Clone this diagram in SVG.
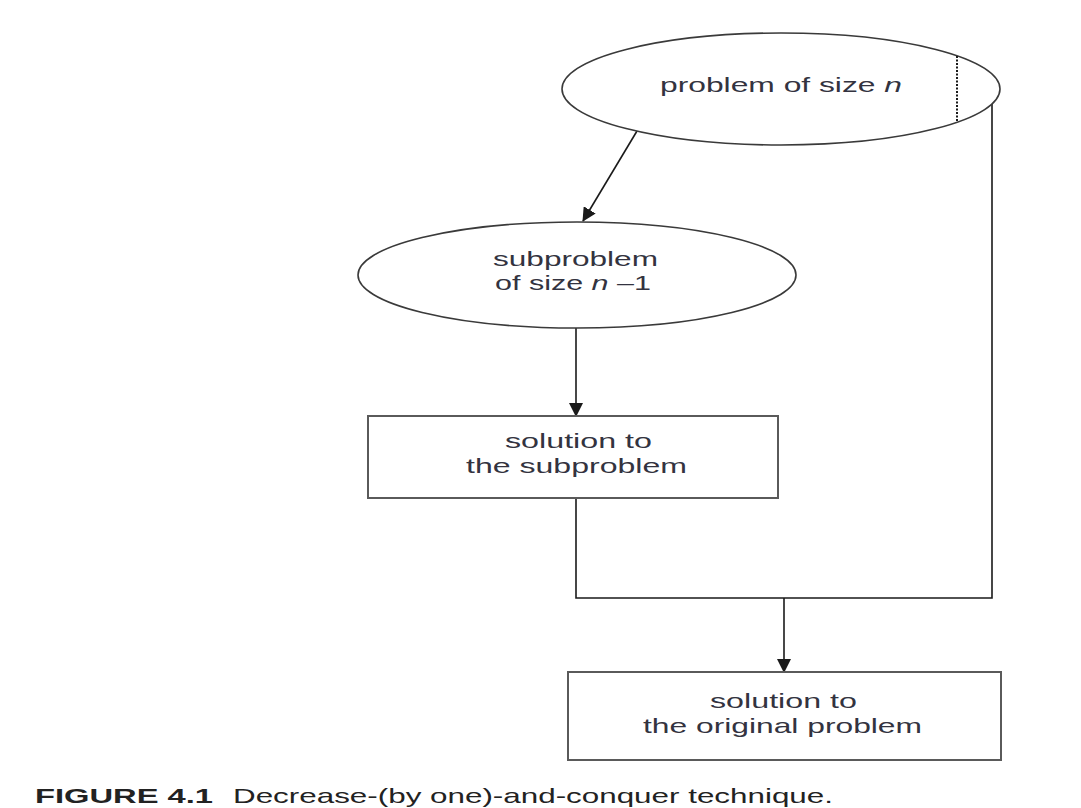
<svg xmlns="http://www.w3.org/2000/svg" width="1081" height="808" viewBox="0 0 1081 808">
<style>
  .shape { fill: #ffffff; stroke: #3a3a3a; stroke-width: 1.6; }
  .box { fill: #ffffff; stroke: #5a5a5a; stroke-width: 2; }
  .lbl { font-family: "Liberation Sans", Arial, sans-serif; font-size: 21px; fill: #333340; }
  .conn { fill: none; stroke: #1a1a1a; stroke-width: 1.6; }
  .cap { font-family: "Liberation Sans", Arial, sans-serif; font-size: 21px; fill: #222222; }
</style>
<defs>
  <marker id="ah" markerUnits="userSpaceOnUse" markerWidth="14" markerHeight="14" viewBox="0 0 14 14" refX="13" refY="7" orient="auto">
    <path d="M0,0 L14,7 L0,14 z" fill="#1a1a1a"/>
  </marker>
</defs>
<rect width="1081" height="808" fill="#ffffff"/>
<g id="connectors">
  <line class="conn" x1="637" y1="131" x2="583" y2="221" marker-end="url(#ah)"/>
  <line class="conn" x1="576" y1="328" x2="576" y2="416" stroke="#555555" marker-end="url(#ah)"/>
  <path class="conn" d="M576,498 V598 H992 V104"/>
  <line class="conn" x1="784" y1="598" x2="784" y2="672" stroke-width="2" marker-end="url(#ah)"/>
</g>
<g id="node-problem">
  <ellipse class="shape" cx="781" cy="89" rx="219" ry="56"/>
  <line x1="957" y1="56" x2="957" y2="122" stroke="#1a1a1a" stroke-width="2" stroke-dasharray="2,1.5"/>
  <text class="lbl" x="660" y="92" textLength="242" lengthAdjust="spacingAndGlyphs">problem of size <tspan font-style="italic">n</tspan></text>
</g>
<g id="node-subproblem">
  <ellipse class="shape" cx="577" cy="275" rx="219" ry="53"/>
  <text class="lbl" x="493" y="266" textLength="165" lengthAdjust="spacingAndGlyphs">subproblem</text>
  <text class="lbl" x="495" y="290" textLength="156" lengthAdjust="spacingAndGlyphs">of size <tspan font-style="italic">n</tspan> –1</text>
</g>
<g id="node-solution-sub">
  <rect class="box" x="368" y="416" width="410" height="82"/>
  <text class="lbl" x="505" y="448" textLength="147" lengthAdjust="spacingAndGlyphs">solution to</text>
  <text class="lbl" x="466" y="473" textLength="221" lengthAdjust="spacingAndGlyphs">the subproblem</text>
</g>
<g id="node-solution-orig">
  <rect class="box" x="568" y="672" width="433" height="88"/>
  <text class="lbl" x="710" y="708" textLength="147" lengthAdjust="spacingAndGlyphs">solution to</text>
  <text class="lbl" x="643" y="733" textLength="279" lengthAdjust="spacingAndGlyphs">the original problem</text>
</g>
<g id="caption">
  <text class="cap" x="35" y="803" font-weight="bold" textLength="178" lengthAdjust="spacingAndGlyphs">FIGURE 4.1</text>
  <text class="cap" x="233" y="803" textLength="600" lengthAdjust="spacingAndGlyphs">Decrease-(by one)-and-conquer technique.</text>
</g>
</svg>
